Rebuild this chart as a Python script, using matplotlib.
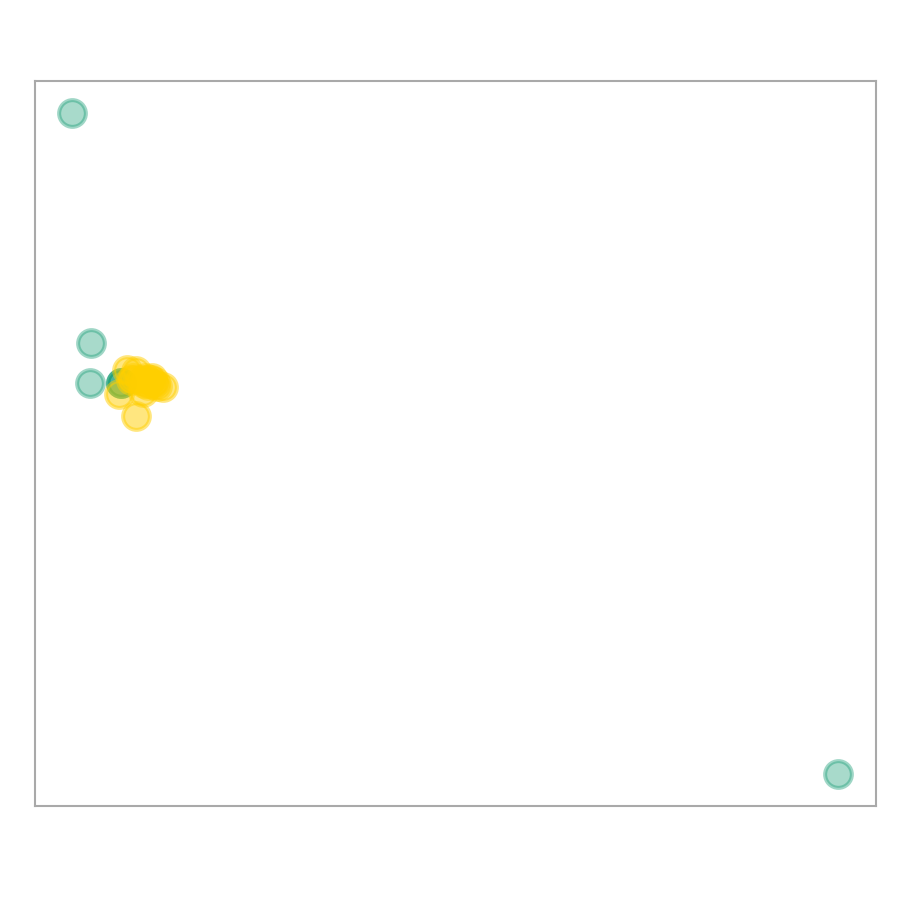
import matplotlib
matplotlib.use("Agg")
import matplotlib.pyplot as plt
from matplotlib.colors import to_rgba

# group A (teal) and group B (yellow) point coordinates
teal_x = [4.4, 6.7, 6.5, 95.5, 10.2, 10.2, 10.2]
teal_y = [95.6, 63.9, 58.3, 4.4, 58.3, 58.3, 58.3]

yellow_x = [10.0, 12.0, 10.9, 12.0, 15.2, 12.8, 13.7, 14.3, 13.1, 12.5,
            13.4, 13.9, 11.7, 11.4, 14.5, 13.0, 14.0]
yellow_y = [56.8, 53.8, 60.1, 60.0, 57.8, 57.1, 58.8, 58.5, 59.0, 58.8,
            58.1, 59.0, 59.0, 58.8, 57.9, 58.4, 58.2]

TEAL, GOLD = "#1b9e77", "#ffcf00"

fig = plt.figure(figsize=(9, 9), dpi=100)
ax = fig.add_axes([35/900, 94/900, 841/900, 725/900])

ax.scatter(teal_x, teal_y, s=370, facecolors=to_rgba(TEAL, 0.38),
           edgecolors=to_rgba(TEAL, 0.42), linewidths=2.9)
ax.scatter(yellow_x, yellow_y, s=370, facecolors=to_rgba(GOLD, 0.5),
           edgecolors=to_rgba(GOLD, 0.5), linewidths=2.9)

ax.set_xlim(0, 100); ax.set_ylim(0, 100)
ax.set_xticks([]); ax.set_yticks([])
for sp in ax.spines.values():
    sp.set_color("#a9a9a9"); sp.set_linewidth(1.5)

fig.savefig("out.png", dpi=100)
